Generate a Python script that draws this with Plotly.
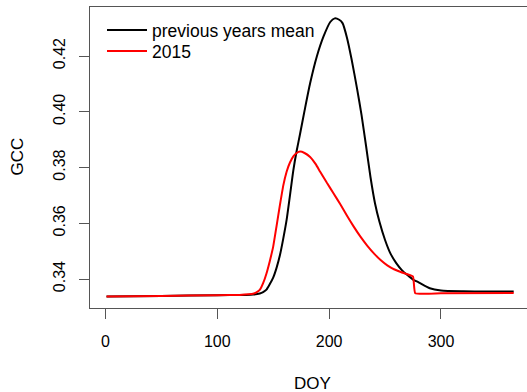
import plotly.graph_objects as go

# Previous years mean (black)
mean_doy = [1, 50, 100, 125, 132, 138, 141, 144, 147, 150, 153, 156, 159, 162, 165,
            168, 171, 174, 178, 183, 189, 195, 201, 205, 209, 212, 216, 220, 225, 229,
            233, 237, 241, 245, 250, 255, 260, 265, 270, 275, 280, 290, 300, 320, 340, 365]
mean_gcc = [0.3337, 0.3339, 0.3342, 0.3343, 0.3344, 0.3348, 0.3353, 0.3362, 0.3382, 0.3405,
            0.3440, 0.3485, 0.3545, 0.3612, 0.3700, 0.3790, 0.3860, 0.3920, 0.4003, 0.4102,
            0.4198, 0.4270, 0.4322, 0.4335, 0.4330, 0.4318, 0.4265, 0.4190, 0.4082, 0.3988,
            0.3878, 0.3765, 0.3672, 0.3605, 0.3540, 0.3490, 0.3457, 0.3432, 0.3414, 0.3398,
            0.3388, 0.3367, 0.3359, 0.3356, 0.3355, 0.3355]

# 2015 (red)
y2015_doy = [1, 50, 100, 120, 128, 132, 135, 138, 141, 144, 147, 150, 153, 156, 159, 162,
             165, 168, 171, 174, 178, 183, 188, 192, 198, 204, 210, 216, 222, 228, 234,
             240, 246, 252, 258, 264, 270, 275, 277, 300, 365]
y2015_gcc = [0.3337, 0.3339, 0.3342, 0.3343, 0.3345, 0.3347, 0.3352, 0.3361, 0.3385, 0.3420,
             0.3465, 0.3516, 0.3590, 0.3665, 0.3735, 0.3785, 0.3818, 0.3840, 0.3852, 0.3857,
             0.3852, 0.3838, 0.3812, 0.3785, 0.3745, 0.3707, 0.3668, 0.3627, 0.3588, 0.3552,
             0.3520, 0.3492, 0.3468, 0.3449, 0.3435, 0.3425, 0.3417, 0.3409, 0.3349, 0.3349,
             0.3350]

x_ticks = [0, 100, 200, 300]
y_ticks = [0.34, 0.36, 0.38, 0.40, 0.42]
y_tick_labels = ["0.34", "0.36", "0.38", "0.40", "0.42"]

FONT = "Liberation Sans, Arial, Helvetica, sans-serif"
AX = "#555555"
PLOT_H = 392 - 7 - 84


def py(pix):
    return (308 - pix) / PLOT_H


def px(pix):
    return (pix - 90) / 437


fig = go.Figure()
fig.add_trace(go.Scatter(x=mean_doy, y=mean_gcc, mode="lines", name="previous years mean",
                         line=dict(color="black", width=2, shape="spline", smoothing=0.6),
                         legend="legend"))
fig.add_trace(go.Scatter(x=y2015_doy, y=y2015_gcc, mode="lines", name="2015",
                         line=dict(color="#FF0000", width=2, shape="spline", smoothing=0.35),
                         legend="legend2"))

leg_common = dict(xanchor="left", yanchor="middle", bgcolor="rgba(0,0,0,0)", borderwidth=0,
                  font=dict(size=17.5), itemwidth=40)

fig.update_layout(
    width=527, height=392,
    margin=dict(l=90, r=0, t=7, b=84, pad=0),
    paper_bgcolor="white", plot_bgcolor="white",
    font=dict(family=FONT, size=16, color="black"),
    showlegend=True,
    legend=dict(x=px(102), y=py(30), **leg_common),
    legend2=dict(x=px(102), y=py(51), **leg_common),
    xaxis=dict(range=[-13.77, 376.9], tickvals=x_ticks, ticks="outside", ticklen=10,
               tickcolor=AX, showline=True, mirror=True, linecolor=AX, linewidth=1,
               showgrid=False, zeroline=False, tickfont=dict(size=16),
               ticklabelstandoff=9, automargin=False),
    yaxis=dict(range=[0.32960, 0.437578], tickvals=y_ticks, ticktext=y_tick_labels,
               tickangle=-90, ticks="outside", ticklen=10, tickcolor=AX,
               showline=True, mirror=False, linecolor=AX, linewidth=1,
               showgrid=False, zeroline=False, tickfont=dict(size=16),
               ticklabelstandoff=8, automargin=False),
    annotations=[
        dict(text="DOY", xref="paper", yref="paper", x=px(312), y=py(383.3),
             xanchor="center", yanchor="middle", showarrow=False, font=dict(size=17)),
        dict(text="GCC", xref="paper", yref="paper", x=px(17), y=py(156.5),
             xanchor="center", yanchor="middle", textangle=-90, showarrow=False,
             font=dict(size=17)),
    ],
)

fig.write_html("out.html", config={"displayModeBar": False},
               post_script="document.body.style.margin='0';")
